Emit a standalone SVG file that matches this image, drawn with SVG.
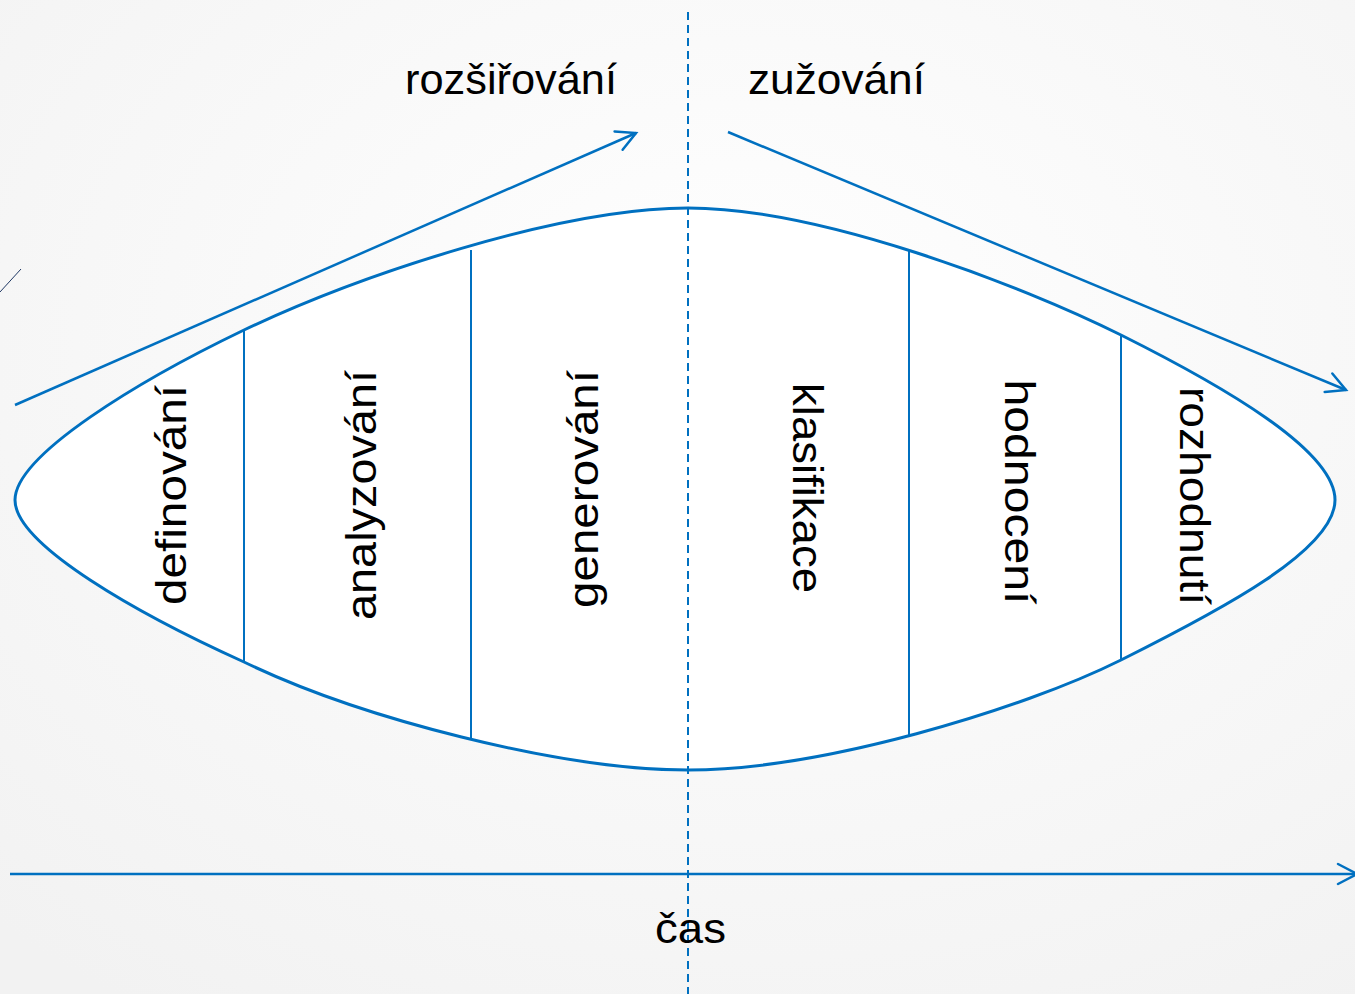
<svg xmlns="http://www.w3.org/2000/svg" width="1355" height="994" viewBox="0 0 1355 994">
<style>
.blue{stroke:#0070c0;fill:none;stroke-linecap:round}
.lens{stroke:#0070c0;stroke-width:3;fill:#ffffff}
.div{stroke:#0070c0;stroke-width:2;fill:none}
.arrow{stroke:#0070c0;stroke-width:2.5;fill:none}
.lbl{font-family:"Liberation Sans",Arial,sans-serif;font-size:43px;fill:#000000}
</style>
<defs>
<radialGradient id="bg" cx="0.55" cy="0.35" r="0.8">
<stop offset="0" stop-color="#ffffff"/>
<stop offset="1" stop-color="#f2f2f2"/>
</radialGradient>
<marker id="open" markerUnits="userSpaceOnUse" markerWidth="30" markerHeight="30" viewBox="-25 -15 30 30" refX="0" refY="0" orient="auto">
<path d="M-19,-10 L0,0 L-19,10" fill="none" stroke="#0070c0" stroke-width="2.5" stroke-linecap="round" stroke-linejoin="miter"/>
</marker>
</defs>
<rect x="0" y="0" width="1355" height="994" fill="url(#bg)"/>
<line x1="0" y1="292" x2="21" y2="269" stroke="#1f3864" stroke-width="1"/>
<g id="lens">
<path class="lens" d="M15,500 C15,455 140,380 244,330 C360,275 560,208 688,208 C820,208 1021,285 1121,335 C1221,385 1335,450 1335,500 C1335,550 1221,610 1121,660 C1021,710 820,770 688,770 C560,770 360,718 244,662 C140,615 15,545 15,500 Z"/>
</g>
<g id="dividers">
<line class="div" x1="244" y1="330" x2="244" y2="662"/>
<line class="div" x1="471" y1="250" x2="471" y2="740"/>
<line class="div" x1="909" y1="250" x2="909" y2="737"/>
<line class="div" x1="1121" y1="335" x2="1121" y2="660"/>
</g>
<g id="connectors">
<line class="arrow" x1="15" y1="405" x2="636" y2="133" marker-end="url(#open)"/>
<line class="arrow" x1="728" y1="132" x2="1346" y2="390" marker-end="url(#open)"/>
<line class="arrow" x1="10" y1="874" x2="1357" y2="874" marker-end="url(#open)"/>
<line x1="688" y1="12" x2="688" y2="994" stroke="#0070c0" stroke-width="2" stroke-dasharray="8,5"/>
</g>
<g id="label-rozsirovani"><text class="lbl" x="405" y="94" textLength="212" lengthAdjust="spacingAndGlyphs">rozšiřování</text></g>
<g id="label-zuzovani"><text class="lbl" x="748" y="94" textLength="177" lengthAdjust="spacingAndGlyphs">zužování</text></g>
<g id="label-cas"><text class="lbl" x="655" y="943" textLength="71" lengthAdjust="spacingAndGlyphs">čas</text></g>
<g id="node-definovani"><text class="lbl" transform="translate(186,495) rotate(-90)" text-anchor="middle" textLength="220" lengthAdjust="spacingAndGlyphs">definování</text></g>
<g id="node-analyzovani"><text class="lbl" transform="translate(376,495) rotate(-90)" text-anchor="middle" textLength="250" lengthAdjust="spacingAndGlyphs">analyzování</text></g>
<g id="node-generovani"><text class="lbl" transform="translate(598,489) rotate(-90)" text-anchor="middle" textLength="238" lengthAdjust="spacingAndGlyphs">generování</text></g>
<g id="node-klasifikace"><text class="lbl" transform="translate(793,488) rotate(90)" text-anchor="middle" textLength="210" lengthAdjust="spacingAndGlyphs">klasifikace</text></g>
<g id="node-hodnoceni"><text class="lbl" transform="translate(1005,492) rotate(90)" text-anchor="middle" textLength="225" lengthAdjust="spacingAndGlyphs">hodnocení</text></g>
<g id="node-rozhodnuti"><text class="lbl" transform="translate(1180,496) rotate(90)" text-anchor="middle" textLength="218" lengthAdjust="spacingAndGlyphs">rozhodnutí</text></g>
</svg>
